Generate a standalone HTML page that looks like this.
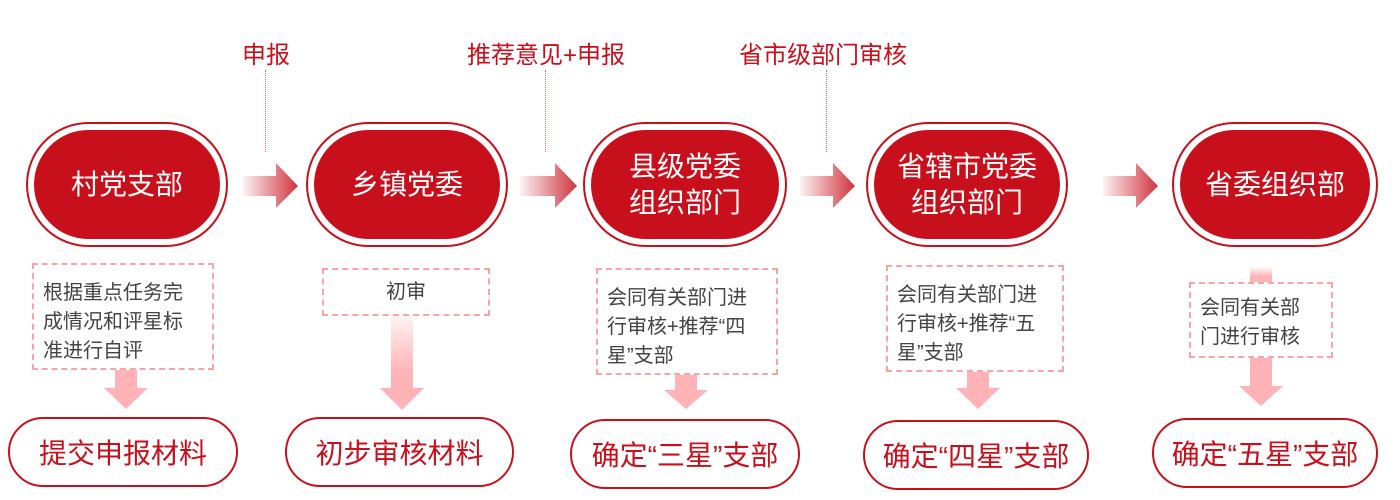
<!DOCTYPE html>
<html><head><meta charset="utf-8"><style>
body{margin:0;width:1400px;height:500px;background:#fff;position:relative;overflow:hidden;font-family:"Liberation Sans","Noto Sans CJK SC",sans-serif}
.a{position:absolute}
.ring{position:absolute;border:2px solid #c8101c;border-radius:70px;box-sizing:border-box;background:#fff}
.node{position:absolute;left:6px;right:6px;top:6px;bottom:6px;background:#c8101c;border-radius:60px;color:#fff;font-size:28px;display:flex;align-items:center;justify-content:center;text-align:center;line-height:36px}
.lbl{position:absolute;color:#c8101c;font-size:24px;white-space:nowrap;transform:translateX(-50%)}
.dot{position:absolute;width:0;border-left:1.5px dotted #d9606a}
.box{position:absolute;border:2px dashed #f7a5a8;box-sizing:border-box;color:#444;font-size:20px;line-height:29px;padding:14px 0 0 9px}
.pill{position:absolute;border:2px solid #c8101c;border-radius:40px;box-sizing:border-box;color:#c8101c;font-size:28px;display:flex;align-items:center;justify-content:center;white-space:nowrap}
</style></head><body>
<div class="lbl" style="left:266px;top:35px">申报</div>
<div class="lbl" style="left:546px;top:35px">推荐意见+申报</div>
<div class="lbl" style="left:823px;top:35px">省市级部门审核</div>
<div class="dot" style="left:265px;top:70px;height:82px"></div>
<div class="dot" style="left:545px;top:70px;height:82px"></div>
<div class="dot" style="left:826px;top:70px;height:82px"></div>

<div class="ring" style="left:26px;top:122px;width:202px;height:125px"><div class="node">村党支部</div></div>
<div class="ring" style="left:306px;top:122px;width:202px;height:125px"><div class="node">乡镇党委</div></div>
<div class="ring" style="left:583px;top:122px;width:204px;height:125px"><div class="node">县级党委<br>组织部门</div></div>
<div class="ring" style="left:866px;top:122px;width:202px;height:125px"><div class="node">省辖市党委<br>组织部门</div></div>
<div class="ring" style="left:1172px;top:122px;width:206px;height:125px"><div class="node">省委组织部</div></div>

<svg class="a" style="left:0;top:0" width="1400" height="500">
<defs>
<linearGradient id="h" x1="0" x2="1"><stop offset="0" stop-color="#c8101c" stop-opacity="0.05"/><stop offset="1" stop-color="#c8101c" stop-opacity="0.85"/></linearGradient>
<linearGradient id="v" x1="0" x2="0" y1="0" y2="1"><stop offset="0" stop-color="#ffb3b6" stop-opacity="0.15"/><stop offset="0.6" stop-color="#ffb3b6"/></linearGradient>
</defs>
<g fill="url(#h)">
<path d="M243,176 H276 V163 L298,186 L276,208 V196 H243 Z"/>
<path d="M520,176 H555 V163 L577,186 L555,208 V196 H520 Z"/>
<path d="M800,176 H833 V163 L855,186 L833,208 V196 H800 Z"/>
<path d="M1103,176 H1136 V163 L1158,186 L1136,208 V196 H1103 Z"/>
</g>
<g fill="#ffb3b6">
<path d="M115,370 H137 V388 H148 L126,409 L104,388 H115 Z"/>
<path d="M675,375 H697 V390 H708 L686,409 L664,390 H675 Z"/>
<path d="M967,372 H989 V388 H1000 L978,409 L956,388 H967 Z"/>
</g>
<path fill="url(#v)" d="M391,316 H413 V388 H424 L402,410 L380,388 H391 Z"/>
<path fill="url(#v)" d="M1250,268 H1272 V282 H1250 Z"/>
<path fill="#ffb3b6" d="M1250,358 H1272 V386 H1283 L1261,406 L1239,386 H1250 Z"/>
</svg>

<div class="box" style="left:32px;top:263px;width:182px;height:107px">根据重点任务完<br>成情况和评星标<br>准进行自评</div>
<div class="box" style="left:322px;top:268px;width:168px;height:48px;padding:0;display:flex;align-items:center;justify-content:center">初审</div>
<div class="box" style="left:596px;top:268px;width:182px;height:107px">会同有关部门进<br>行审核+推荐“四<br>星”支部</div>
<div class="box" style="left:886px;top:265px;width:178px;height:107px">会同有关部门进<br>行审核+推荐“五<br>星”支部</div>
<div class="box" style="left:1189px;top:282px;width:144px;height:76px;padding-top:10px">会同有关部<br>门进行审核</div>

<div class="pill" style="left:8px;top:417px;width:230px;height:70px">提交申报材料</div>
<div class="pill" style="left:285px;top:417px;width:229px;height:70px">初步审核材料</div>
<div class="pill" style="left:570px;top:419px;width:230px;height:70px">确定“三星”支部</div>
<div class="pill" style="left:863px;top:420px;width:226px;height:70px">确定“四星”支部</div>
<div class="pill" style="left:1152px;top:418px;width:226px;height:70px">确定“五星”支部</div>
</body></html>
